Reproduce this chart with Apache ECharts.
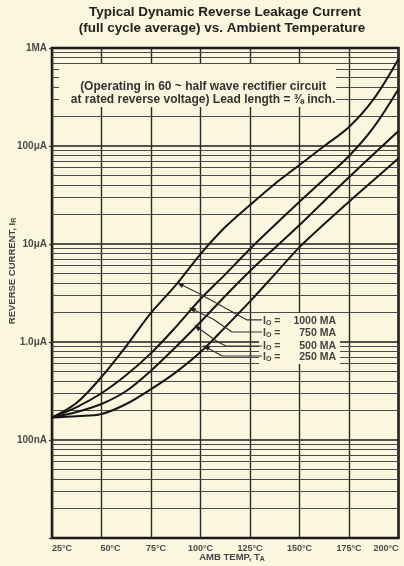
<!DOCTYPE html>
<html><head><meta charset="utf-8">
<script src="https://cdn.jsdelivr.net/npm/echarts@6/dist/echarts.min.js"></script>
<style>html,body{margin:0;padding:0;background:#faf7de}#c{width:404px;height:566px}</style>
</head><body><div id="c"></div>
<script>
// ---- data (reverse current in microamps) ----
const temps   = [25, 37.5, 50, 62.5, 75, 87.5, 100, 112.5, 125, 137.5, 150, 162.5, 175, 187.5, 200];
const io1000  = [0.17, 0.24, 0.44, 0.91, 1.98, 3.8, 7.9, 14.9, 25, 41, 64, 100, 156, 302, 772];
const io750   = [0.17, 0.217, 0.30, 0.46, 0.77, 1.42, 2.75, 4.9, 8.9, 15.6, 27, 46, 79, 156, 382];
const io500   = [0.17, 0.193, 0.233, 0.316, 0.51, 0.89, 1.6, 2.95, 5.3, 9.1, 15.6, 27.5, 48, 83, 142];
const io250   = [0.17, 0.175, 0.184, 0.233, 0.33, 0.49, 0.79, 1.42, 2.6, 4.9, 9.3, 16, 27, 45, 75];
const seriesNames = ['1000 MA', '750 MA', '500 MA', '250 MA'];

// leader lines from labels to curves: [temp, current]
const leader1000 = [[89.6, 3.9], [99.7, 3.09], [123.5, 1.68], [131, 1.68]];
const leader750  = [[95.7, 2.17], [106.3, 1.72], [115.9, 1.265], [131, 1.265]];
const leader500  = [[98.2, 1.42], [108.8, 1.0], [112.9, 0.91], [131, 0.91]];
const leader250  = [[102.8, 0.889], [110.9, 0.72], [131, 0.72]];

// axis ticks
const xTickValues = [25, 50, 75, 100, 125, 150, 175, 200];
const xTickLabels = ['25°C', '50°C', '75°C', '100°C', '125°C', '150°C', '175°C', '200°C'];
const yTickValues = [0.01, 0.1, 1, 10, 100, 1000];
const yTickLabels = ['', '100nA', '1.0μA', '10μA', '100μA', '1MA'];

const paper = '#faf7de';
const FONT = '"Liberation Sans", Arial, sans-serif';

const minorGrid = [];
for (let k = -2; k <= 2; k++) for (let m = 2; m <= 9; m++) minorGrid.push(+(m * Math.pow(10, k)).toPrecision(3));

function curve(vals, name) {
  return {
    name, type: 'line', smooth: 0.35, symbol: 'none', z: 10,
    lineStyle: { color: '#151515', width: 2 },
    data: temps.map((t, i) => [t, vals[i]])
  };
}
function leader(pts, rot) {
  return {
    type: 'line', smooth: false, symbol: 'none', z: 10, silent: true,
    lineStyle: { color: '#333', width: 1.2 },
    data: pts.map((p, i) => i === 0
      ? { value: p, symbol: 'triangle', symbolSize: [5, 7], symbolRotate: rot, itemStyle: { color: '#222' } }
      : { value: p })
  };
}

const chart = echarts.init(document.getElementById('c'));
const xLabelFont = { fontFamily: FONT, fontWeight: 'bold', fontSize: 9, color: '#4a4a4a' };
const yLabelFont = { fontFamily: FONT, fontWeight: 'bold', fontSize: 10, color: '#4a4a4a' };
const subStyle = (pad) => ({ fontSize: 7, fontWeight: 'bold', fontFamily: FONT, fill: '#444', padding: [pad, 0, 0, 0] });

chart.setOption({
  backgroundColor: paper,
  animation: false,
  grid: { left: 52, right: 5.5, top: 48, bottom: 28, show: true, borderColor: '#111', borderWidth: 2.5, backgroundColor: 'transparent' },
  xAxis: {
    type: 'value', min: 25, max: 200, interval: 25,
    axisLine: { show: false }, axisTick: { show: false },
    splitLine: { show: true, lineStyle: { color: '#2a2a2a', width: 1.4 } },
    axisLabel: Object.assign({
      margin: 6, alignMinLabel: 'left', alignMaxLabel: 'right',
      formatter: function (v) {
        const i = xTickValues.indexOf(v);
        if (i === 1) return '{p|' + xTickLabels[i] + '}';
        if (i === 2) return '{q|' + xTickLabels[i] + '}';
        return i >= 0 ? xTickLabels[i] : '';
      },
      rich: {
        p: Object.assign({ padding: [0, 0, 0, 18] }, xLabelFont),
        q: Object.assign({ padding: [0, 0, 0, 10] }, xLabelFont)
      }
    }, xLabelFont)
  },
  yAxis: {
    type: 'log', logBase: 10, min: 0.01, max: 1000, splitNumber: 5,
    axisLine: { show: false },
    axisTick: { show: true, length: 3, lineStyle: { color: '#333', width: 1.2 } },
    splitLine: { show: true, lineStyle: { color: '#1e1e1e', width: 1.7 } },
    axisLabel: Object.assign({
      margin: 5,
      formatter: function (v) {
        for (let i = 0; i < yTickValues.length; i++) if (Math.abs(Math.log10(v) - Math.log10(yTickValues[i])) < 1e-6) return yTickLabels[i];
        return '';
      }
    }, yLabelFont)
  },
  series: [
    {
      type: 'line', data: [], z: 1, silent: true,
      markLine: {
        z: 1, silent: true, symbol: ['none', 'none'], label: { show: false }, animation: false,
        lineStyle: { color: '#4a4a4a', width: 1, type: 'solid' },
        data: minorGrid.map(v => ({ yAxis: v }))
      }
    },
    curve(io1000, seriesNames[0]),
    curve(io750, seriesNames[1]),
    curve(io500, seriesNames[2]),
    curve(io250, seriesNames[3]),
    leader(leader1000, 63),
    leader(leader750, 64),
    leader(leader500, 53),
    leader(leader250, 61)
  ],
  graphic: [
    { type: 'rect', z: 5, shape: { x: 59, y: 64, width: 277, height: 43 }, style: { fill: paper } },
    { type: 'rect', z: 5, shape: { x: 259, y: 313, width: 81, height: 51 }, style: { fill: paper } },
    { type: 'text', z: 12, x: 225, y: 12, style: { text: 'Typical Dynamic Reverse Leakage Current', font: 'bold 13.5px ' + FONT, fill: '#222', align: 'center', verticalAlign: 'middle' } },
    { type: 'text', z: 12, x: 222, y: 28, style: { text: '(full cycle average) vs. Ambient Temperature', font: 'bold 13.5px ' + FONT, fill: '#222', align: 'center', verticalAlign: 'middle' } },
    { type: 'text', z: 12, x: 203, y: 87, style: { text: '(Operating in 60 ~ half wave rectifier circuit', font: 'bold 12px ' + FONT, fill: '#333', align: 'center', verticalAlign: 'middle' } },
    { type: 'text', z: 12, x: 203, y: 100, style: { text: 'at rated reverse voltage) Lead length = ⅜ inch.', font: 'bold 12px ' + FONT, fill: '#333', align: 'center', verticalAlign: 'middle' } },
    { type: 'text', z: 12, x: 232, y: 557, style: { text: 'AMB TEMP, T{s|A}', font: 'bold 9.5px ' + FONT, fill: '#444', align: 'center', verticalAlign: 'middle', rich: { s: subStyle(4) } } },
    { type: 'text', z: 12, x: 12, y: 271, rotation: Math.PI / 2, style: { text: 'REVERSE CURRENT, I{s|R}', font: 'bold 9.5px ' + FONT, fill: '#444', align: 'center', verticalAlign: 'middle', rich: { s: subStyle(4) } } }
  ].concat([321, 333, 346, 357].map((y, i) => ({
    type: 'text', z: 12, x: 263, y: y,
    style: { text: 'I{s|O} =', font: 'bold 10.5px ' + FONT, fill: '#444', verticalAlign: 'middle', rich: { s: subStyle(4) } }
  }))).concat([321, 333, 346, 357].map((y, i) => ({
    type: 'text', z: 12, x: 336, y: y,
    style: { text: seriesNames[i], font: 'bold 10.5px ' + FONT, fill: '#444', align: 'right', verticalAlign: 'middle' }
  })))
});
</script></body></html>
